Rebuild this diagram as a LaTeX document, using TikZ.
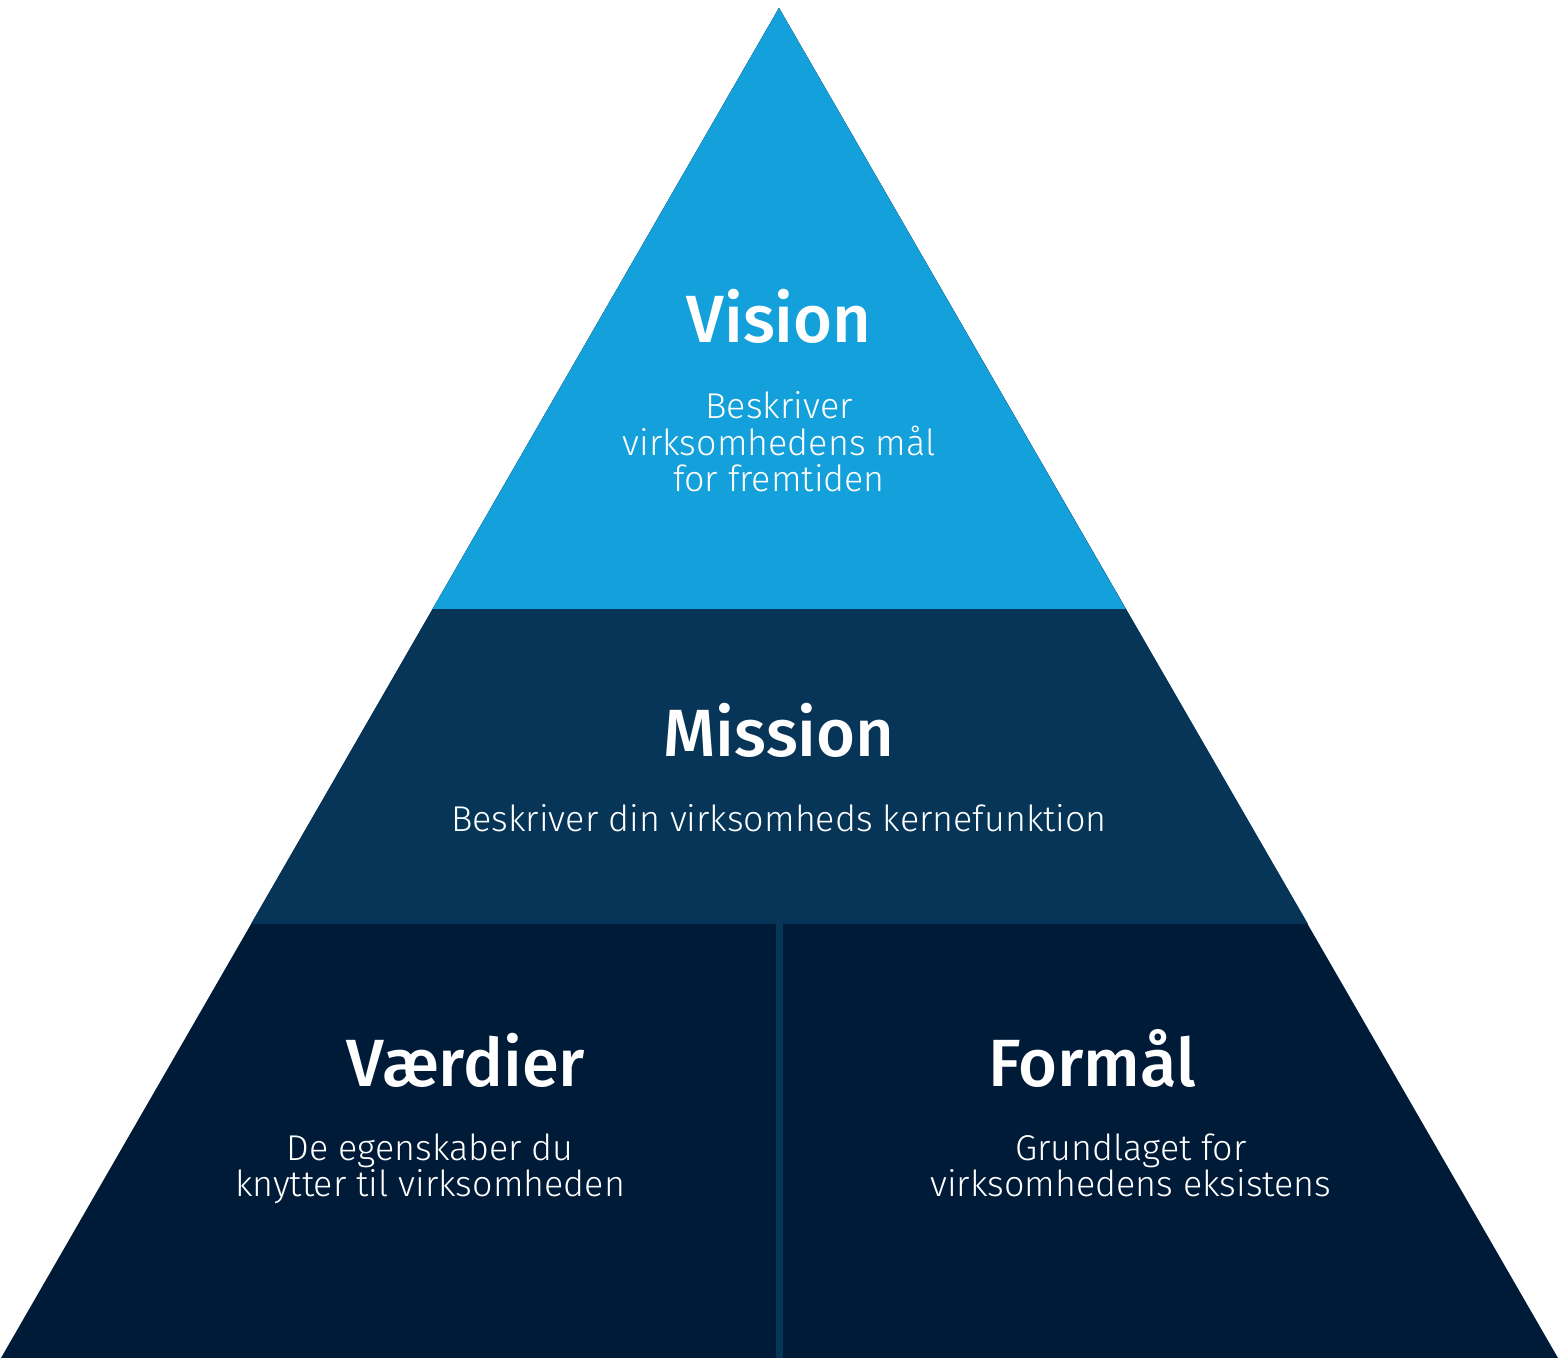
\documentclass[tikz,border=0pt]{standalone}
\usepackage{fontspec}
\setmainfont{Fira Sans}[UprightFont=* Light, BoldFont=* Medium]
\definecolor{visionblaa}{HTML}{14A1DB}
\definecolor{missionblaa}{HTML}{063558}
\definecolor{bundblaa}{HTML}{001B38}
\tikzset{
    titel/.style={anchor=base, text=white, font=\fontsize{19}{22}\selectfont\bfseries, inner sep=0pt},
    tekst/.style={anchor=base, text=white, align=center, font=\fontsize{10.2}{10.4}\selectfont, inner sep=0pt}
}
\begin{document}
\begin{tikzpicture}[x=0.01cm,y=-0.01cm]
        \useasboundingbox (0,0) rectangle (1562,1364);
        \coordinate (top) at (779,8);
        \coordinate (VL) at (1,1358);
        \coordinate (VR) at (1558,1358);
        \coordinate (ML) at (251,924);
        \coordinate (MR) at (1308,924);
        \coordinate (TL) at (432.6,609);
        \coordinate (TR) at (1125.8,609);
        \fill[bundblaa] (top) -- (VL) -- (VR) -- cycle;
        \fill[missionblaa] (top) -- (ML) -- (MR) -- cycle;
        \fill[visionblaa] (top) -- (TL) -- (TR) -- cycle;
        \fill[missionblaa] (776,924) rectangle (782.5,1358);
        % tekst-noder: base = sidste linjes grundlinje
        \node[titel] (vision) at (779,343) {Vision};
        \node[tekst] (visiontekst) at (779,492) {Beskriver\\virksomhedens mål\\for fremtiden};
        \node[titel] (mission) at (779,757) {Mission};
        \node[tekst] (missiontekst) at (779,832) {Beskriver din virksomheds kernefunktion};
        \node[titel] (vaerdier) at (466,1087) {Værdier};
        \node[tekst] (vaerditekst) at (430,1197) {De egenskaber du\\knytter til virksomheden};
        \node[titel] (formaal) at (1092,1087) {Formål};
        \node[tekst] (formaaltekst) at (1131,1197) {Grundlaget for\\virksomhedens eksistens};
    \end{tikzpicture}
\end{document}
